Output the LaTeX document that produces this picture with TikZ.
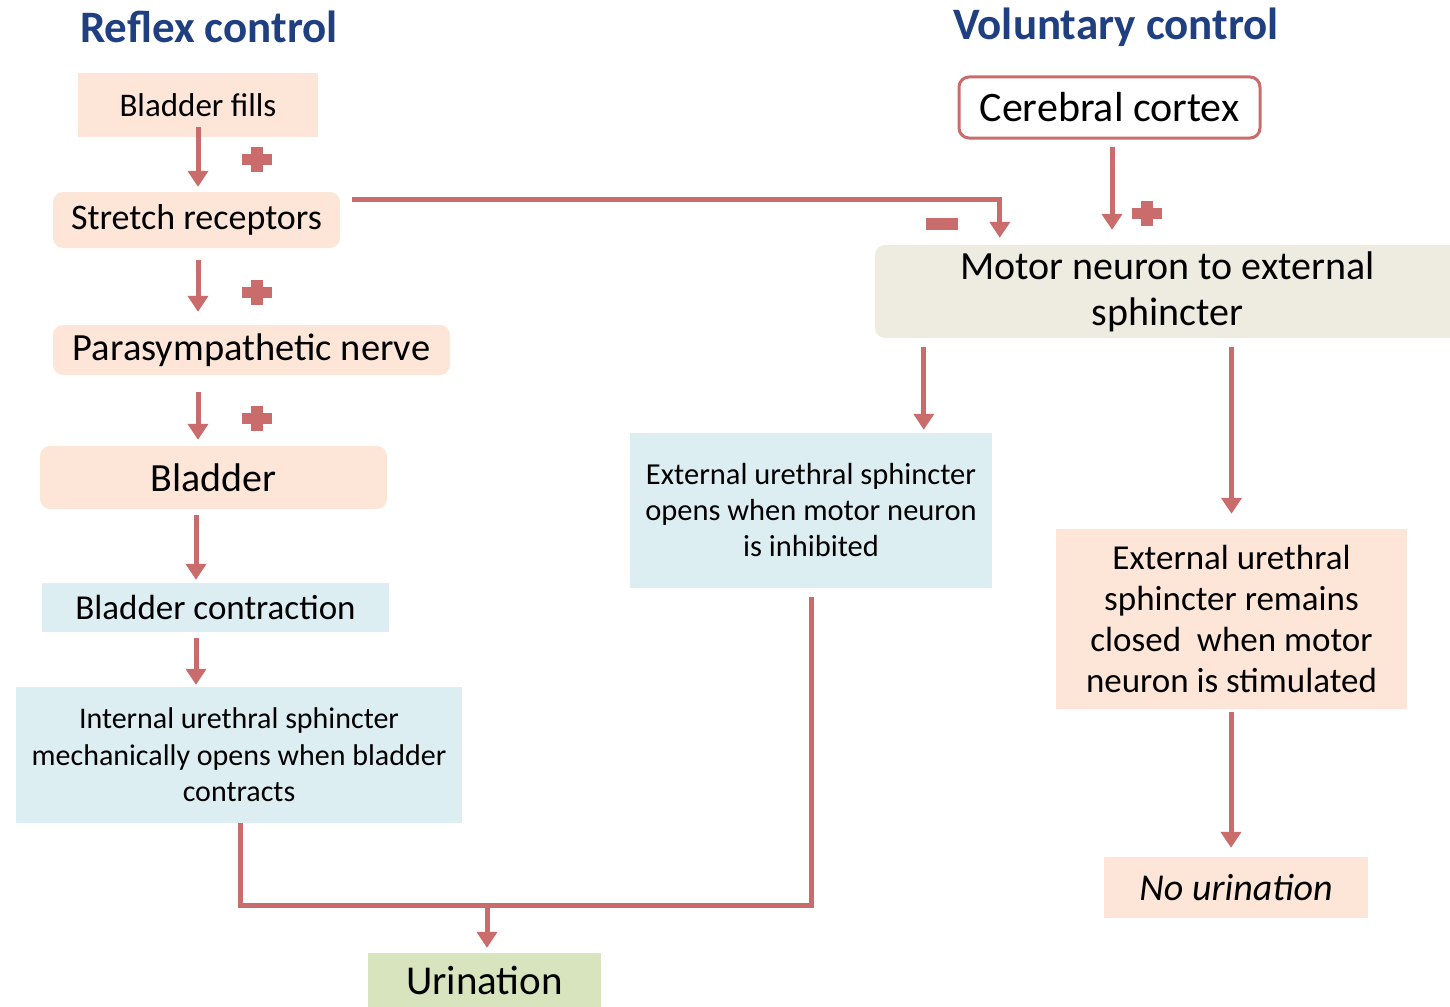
\documentclass[tikz,border=0pt]{standalone}
\usepackage{fontspec}
\setmainfont{Carlito}
\usepackage{tikz}
\usetikzlibrary{positioning, arrows.meta}
\definecolor{peach}{HTML}{FDE6D7}
\definecolor{paleblue}{HTML}{DDEEF3}
\definecolor{palegreen}{HTML}{D7E4BD}
\definecolor{tan}{HTML}{EEECE1}
\definecolor{linered}{HTML}{CB6C6C}
\definecolor{titleblue}{HTML}{1F3F80}
\tikzset{
    block/.style = {
        inner sep = 0pt,
        align = center
    },
    peachbox/.style = {block, fill = peach},
    bluebox/.style = {block, fill = paleblue},
    line/.style = {draw = linered, line width = 5pt},
    arrow/.style = {line, -{Triangle[width=20pt, length=16pt]}},
    title/.style = {font = \fontsize{45}{50}\selectfont\bfseries, text = titleblue},
    plusmark/.pic = {
        \fill[linered] (-15,-5) rectangle (15,6);
        \fill[linered] (-6,-12) rectangle (6,13);
    },
    minusmark/.pic = {
        \fill[linered] (-16,-6) rectangle (16,6);
    }
}

\begin{document}
\begin{tikzpicture}[x=1pt, y=-1pt]

    \useasboundingbox (0,0) rectangle (1450,1006);

    % Titles
    \node[title] (reflex) at (209,27) {Reflex control};
    \node[title] (voluntary) at (1116,27) {Voluntary control};

    % Reflex chain
    \node[peachbox, minimum width = 240pt, minimum height = 64pt,
        font = \fontsize{33}{38}\selectfont] (fills) at (198,105) {Bladder fills};
    \node[peachbox, rounded corners = 10pt, minimum width = 287pt, minimum height = 56pt,
        font = \fontsize{36}{40}\selectfont] (stretch) at (196.5,220) {Stretch receptors};
    \node[peachbox, rounded corners = 10pt, minimum width = 397pt, minimum height = 50pt,
        font = \fontsize{38.5}{42}\selectfont] (para) at (251.5,350) {Parasympathetic nerve};
    \node[peachbox, rounded corners = 10pt, minimum width = 347pt, minimum height = 63pt,
        font = \fontsize{40}{44}\selectfont] (bladder) at (213.5,477.5) {Bladder};
    \node[bluebox, minimum width = 347pt, minimum height = 49pt,
        font = \fontsize{35}{40}\selectfont] (contraction) at (215.5,607.5) {Bladder contraction};
    \node[bluebox, minimum width = 446pt, minimum height = 136pt,
        font = \fontsize{30}{36.5}\selectfont] (internal) at (239,755)
        {Internal urethral sphincter\\mechanically opens when bladder\\contracts};
    \node[block, fill = palegreen, minimum width = 233pt, minimum height = 54pt,
        font = \fontsize{41}{44}\selectfont] (urination) at (484.5,980) {Urination};

    % Voluntary chain
    \node[block, fill = white, draw = linered, line width = 3pt, rounded corners = 10pt,
        minimum width = 301pt, minimum height = 61pt,
        font = \fontsize{42}{46}\selectfont] (cortex) at (1109.5,107.5) {Cerebral cortex};
    \node[block, fill = tan, rounded corners = 10pt, minimum width = 585pt, minimum height = 93pt,
        font = \fontsize{40}{46}\selectfont] (motor) at (1167.5,291.5)
        {Motor neuron to external\\sphincter};
    \node[bluebox, minimum width = 362pt, minimum height = 155pt,
        font = \fontsize{30.5}{36}\selectfont] (opens) at (811,510.5)
        {External urethral sphincter\\opens when motor neuron\\is inhibited};
    \node[peachbox, minimum width = 351pt, minimum height = 180pt,
        font = \fontsize{35}{41}\selectfont] (remains) at (1231.5,619)
        {External urethral\\sphincter remains\\closed\ \ when motor\\neuron is stimulated};
    \node[peachbox, minimum width = 264pt, minimum height = 61pt,
        font = \fontsize{38}{42}\selectfont\itshape] (nourination) at (1236,887.5) {No urination};

    % Reflex arrows
    \draw[arrow, shorten < = -10pt, shorten > = 5pt] (fills.south) -- (fills.south |- stretch.north)
        pic[pos = 0.4, xshift = 59pt] {plusmark};
    \draw[arrow, shorten < = 12pt, shorten > = 13pt] ([xshift=1.5pt]stretch.south) -- ([xshift=1.5pt]stretch.south |- para.north)
        pic[pos = 0.57, xshift = 59pt] {plusmark};
    \draw[arrow, shorten < = 17pt, shorten > = 6pt] ([xshift=-53.5pt]para.south) -- ([xshift=-53.5pt]para.south |- bladder.north)
        pic[pos = 0.6, xshift = 59pt] {plusmark};
    \draw[arrow, shorten < = 6pt, shorten > = 3pt] ([xshift=-17.5pt]bladder.south) -- ([xshift=-17.5pt]bladder.south |- contraction.north);
    \draw[arrow, shorten < = 6pt, shorten > = 2pt] ([xshift=-19.5pt]contraction.south) -- ([xshift=-19.5pt]contraction.south |- internal.north);

    % Towards urination
    \path (internal.south) ++(0,82) coordinate (join);
    \draw[line, shorten > = 9pt] ([xshift=1pt]internal.south) -- ([xshift=1pt]join) -| (opens.south);
    \draw[arrow, shorten > = 5pt] ([xshift=2.5pt]join -| urination.north) -- ([xshift=2.5pt]urination.north);

    % Voluntary arrows
    \draw[arrow, shorten > = 7pt] ([xshift=12pt, yshift=-8pt]stretch.north east) -| ([xshift=125pt]motor.north west)
        pic[pos = 0.767, xshift = -58pt] {minusmark};
    \draw[arrow, shorten < = 7pt, shorten > = 15pt] ([xshift=2.5pt]cortex.south) -- ([xshift=2.5pt]cortex.south |- motor.north)
        pic[pos = 0.7, xshift = 35pt] {plusmark};
    \draw[arrow, shorten < = 9pt, shorten > = 3pt] ([xshift=49pt]motor.south west) -- ([xshift=49pt]motor.south west |- opens.north);
    \draw[arrow, shorten < = 9pt, shorten > = 15pt] (remains.north |- motor.south) -- (remains.north);
    \draw[arrow, shorten < = 3pt, shorten > = 9pt] ([xshift=-0.5pt]remains.south) -- ([xshift=-0.5pt]remains.south |- nourination.north);

\end{tikzpicture}
\end{document}
